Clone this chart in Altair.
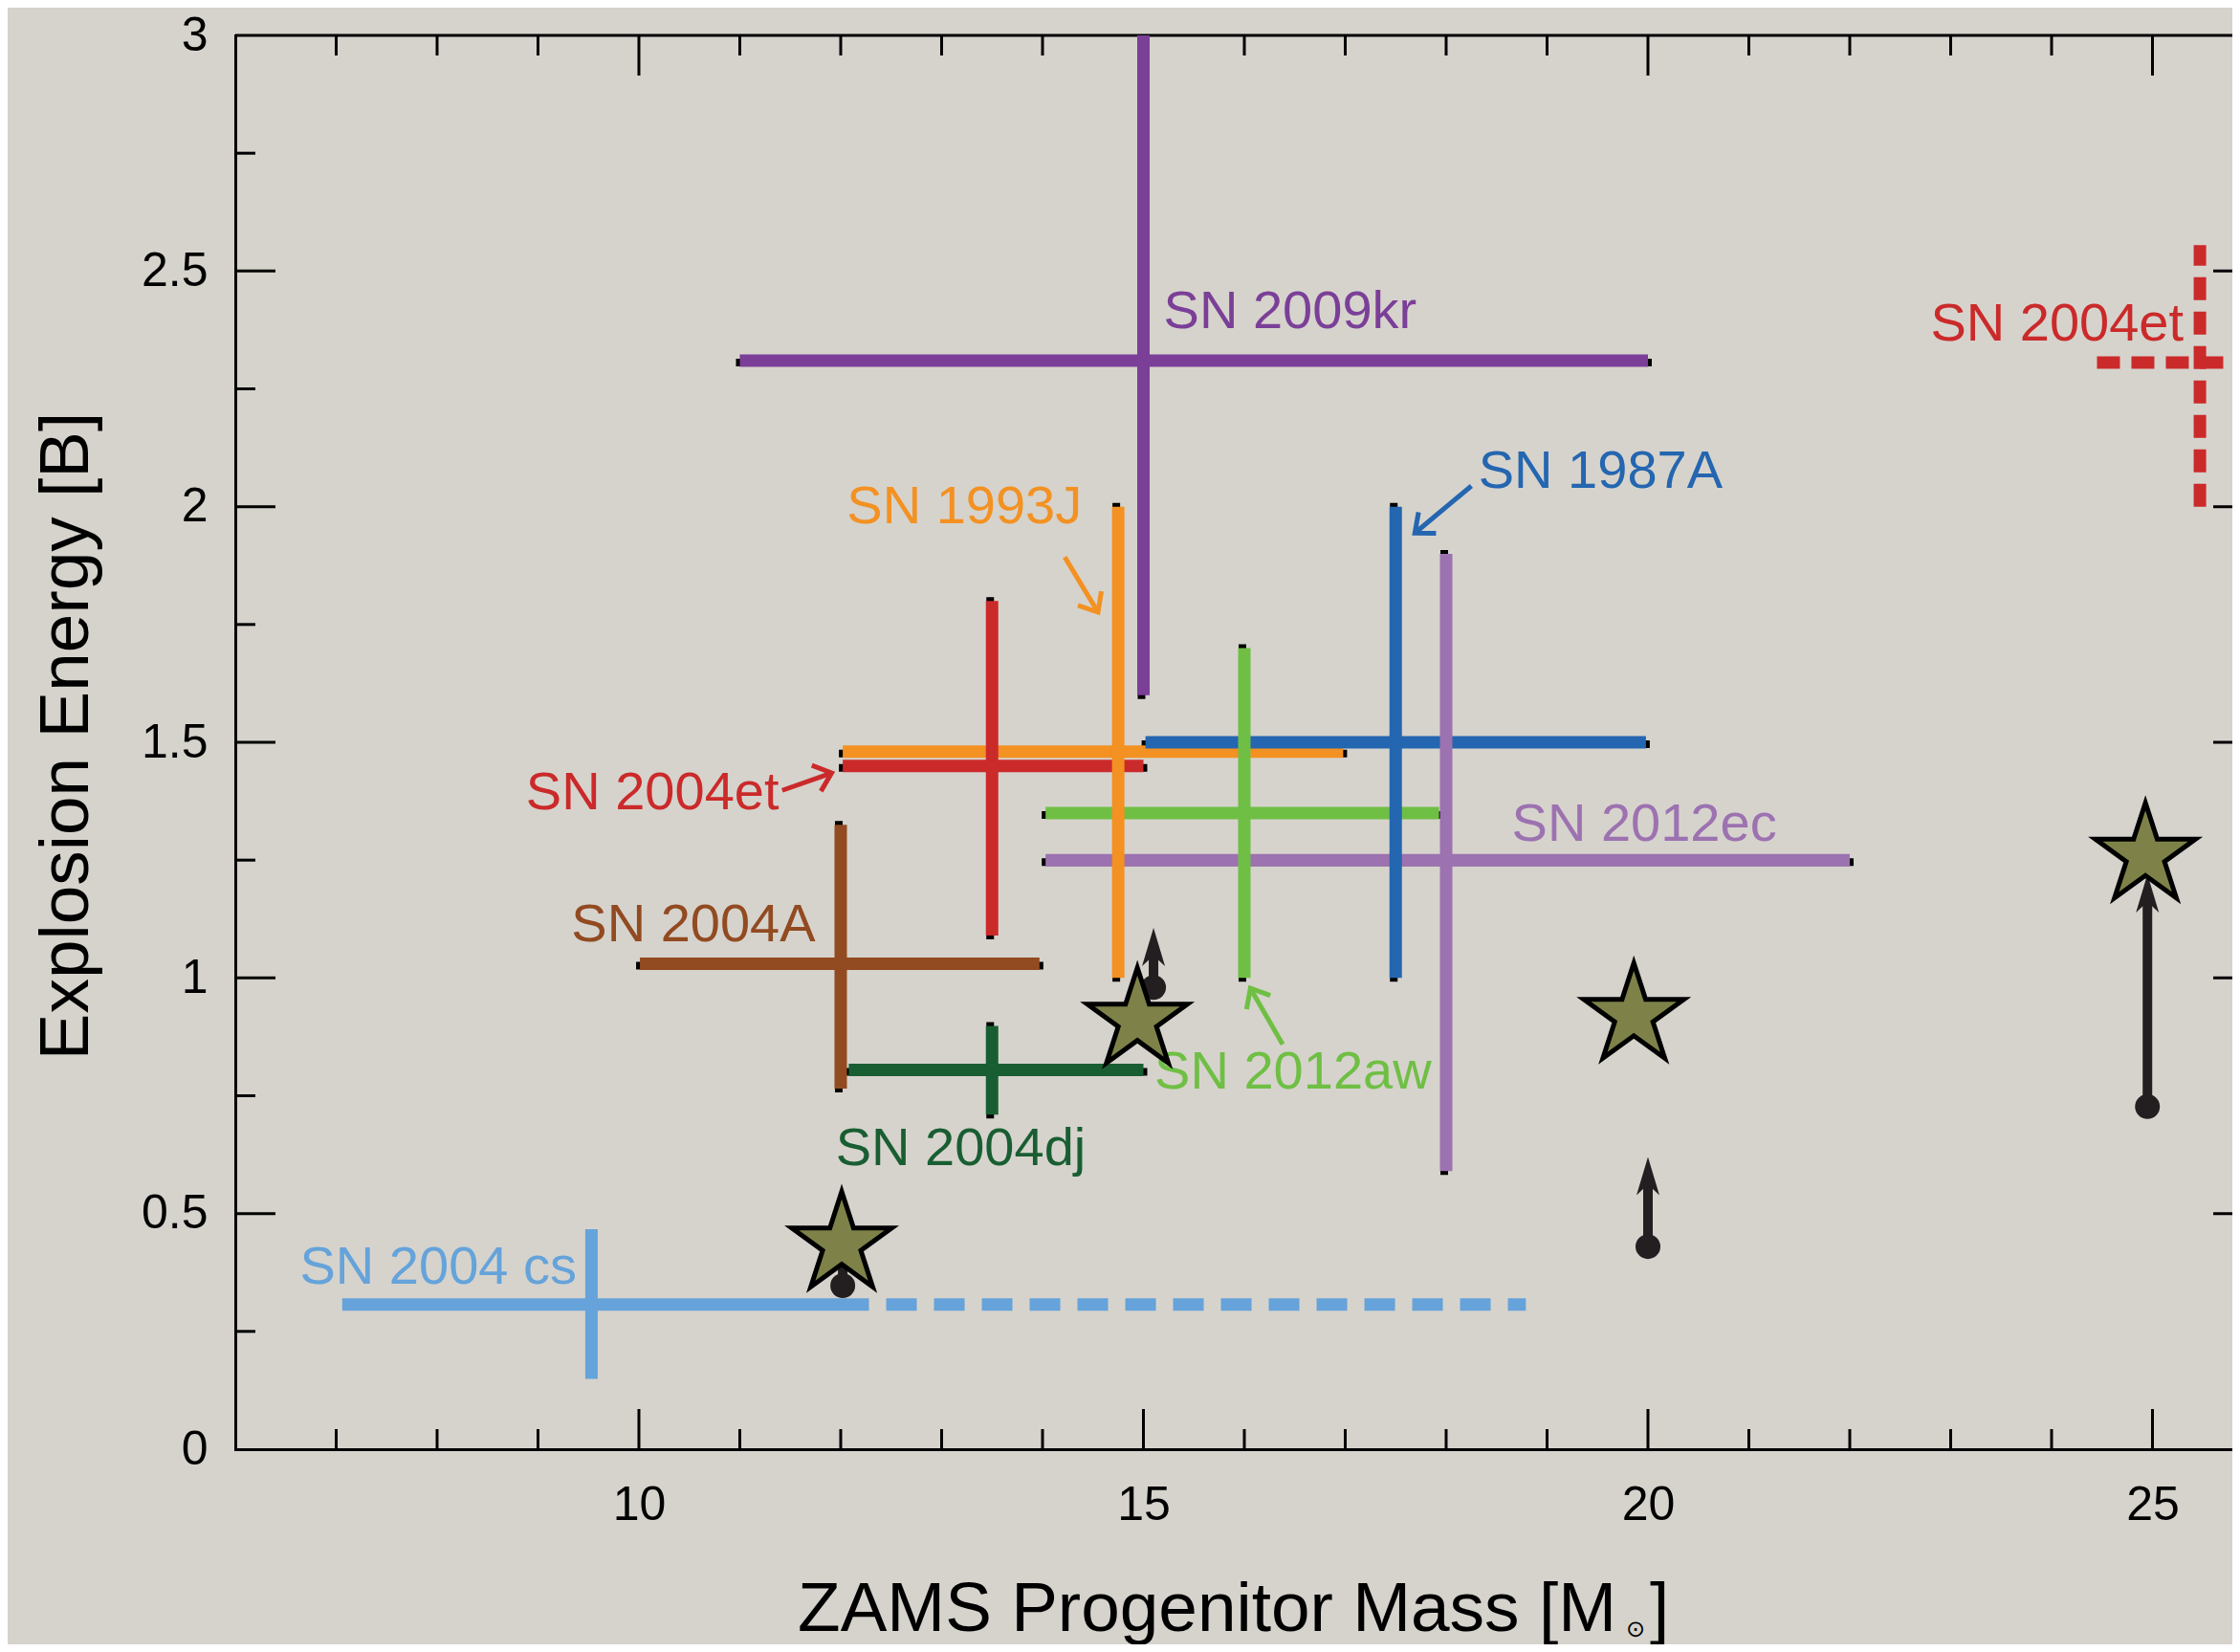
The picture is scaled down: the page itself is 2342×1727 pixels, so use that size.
import math
import altair as alt
import pandas as pd

# ---------------- data ----------------
sn_names = ["SN 2009kr", "SN 1993J", "SN 2004et", "SN 2004A", "SN 2004dj",
            "SN 2012aw", "SN 1987A", "SN 2012ec", "SN 2004 cs"]
sn_mass = [15.0, 14.75, 13.5, 12.0, 13.5, 16.0, 17.5, 18.0, 9.53]
sn_mass_lo = [11.0, 12.02, 12.02, 10.01, 12.08, 14.03, 15.02, 14.03, 7.06]
sn_mass_hi = [20.0, 16.98, 15.0, 13.97, 15.0, 17.93, 19.98, 22.0, 12.28]
sn_energy = [2.31, 1.48, 1.45, 1.03, 0.805, 1.35, 1.5, 1.25, 0.307]
sn_energy_lo = [1.6, 1.0, 1.09, 0.765, 0.71, 1.0, 1.0, 0.59, 0.149]
sn_energy_hi = [3.0, 2.0, 1.8, 1.325, 0.898, 1.7, 2.0, 1.9, 0.467]
sn_colors = ["#7B3F98", "#F39122", "#CB2A2A", "#924A21", "#195E32",
             "#6FBF44", "#2466B0", "#9C72B0", "#65A3DA"]
sn_shadow = [True, True, True, True, True, True, True, True, False]

# dashed extension of SN 2004cs mass range
cs_dash_lo = [12.28]
cs_dash_hi = [18.79]
cs_dash_energy = [0.307]

# alternative (dashed) SN 2004et estimate at the right edge
et_mass = [25.47]
et_mass_lo = [24.45]
et_mass_hi = [26.5]
et_energy = [2.306]
et_energy_lo = [2.0]
et_energy_hi = [2.555]

# labels
label_text = ["SN 2009kr", "SN 1993J", "SN 2004et", "SN 1987A", "SN 2012aw",
              "SN 2012ec", "SN 2004A", "SN 2004dj", "SN 2004 cs", "SN 2004et"]
label_mass = [15.20, 12.06, 8.88, 18.32, 15.11, 18.65, 9.33, 11.95, 6.64, 22.80]
label_energy = [2.414, 1.999, 1.392, 2.074, 0.80, 1.326, 1.113, 0.6375, 0.386, 2.386]
label_colors = ["#7B3F98", "#F39122", "#CB2A2A", "#2466B0", "#6FBF44",
                "#9C72B0", "#924A21", "#195E32", "#65A3DA", "#CB2A2A"]

# annotation arrows (tail -> tip)
ann_mass0 = [11.42, 14.22, 18.25, 16.38]
ann_energy0 = [1.398, 1.893, 2.044, 0.859]
ann_mass1 = [11.91, 14.55, 17.69, 16.06]
ann_energy1 = [1.435, 1.776, 1.944, 0.978]
ann_colors = ["#CB2A2A", "#F39122", "#2466B0", "#6FBF44"]

# model stars
star_mass = [12.01, 14.94, 19.86, 24.93]
star_energy = [0.435, 0.91, 0.92, 1.26]

# lower-limit arrows
lim_mass = [12.02, 15.1, 20.0, 24.95]
lim_lo = [0.347, 0.98, 0.43, 0.727]
lim_hi = [0.46, 1.106, 0.62, 1.22]

# axis ticks
x_major = [10, 15, 20, 25]
x_minor = [7, 8, 9, 11, 12, 13, 14, 16, 17, 18, 19, 21, 22, 23, 24]
y_major = [0.5, 1.0, 1.5, 2.0, 2.5]
y_minor = [0.25, 0.75, 1.25, 1.75, 2.25, 2.75]
y_labels = [0, 0.5, 1, 1.5, 2, 2.5, 3]

# titles
x_title_main = "ZAMS Progenitor Mass [M"
x_title_sub = "\u2299"
x_title_end = "]"
y_title = "Explosion Energy [B]"

# ---------------- layout ----------------
W = 2088
H = 1478
PXX = 105.5
XMIN = 6.0
XMAX = XMIN + W / PXX
PXY = H / 3.0
RIGHT_SPINE = (26 - XMIN) * PXX
FONT = "Liberation Sans"
BG = "#D6D3CD"
LW = 13

x_scale = alt.Scale(domain=[XMIN, XMAX], nice=False, zero=False)
y_scale = alt.Scale(domain=[0, 3], nice=False, zero=False)

x_axis = alt.Axis(values=x_major, format="d", ticks=False, tickSize=0, grid=False,
                  domain=True, domainColor="black", domainWidth=3, domainCap="square",
                  labelFont=FONT, labelFontSize=50, labelColor="black", labelPadding=33,
                  labelOverlap=False, labelFlush=False, title=None)
y_axis = alt.Axis(values=y_labels, format="~g", ticks=False, tickSize=0, grid=False,
                  domain=True, domainColor="black", domainWidth=3, domainCap="square",
                  labelFont=FONT, labelFontSize=50, labelColor="black", labelPadding=29,
                  labelOverlap=False,
                  title=y_title, titleFont=FONT,
                  titleFontSize=73, titleFontWeight="normal", titleColor="black",
                  titleAngle=270, titleX=-155, titleY=732, titleBaseline="alphabetic",
                  titleAlign="center")


def X(f):
    return alt.X(f, type="quantitative", scale=x_scale, axis=x_axis)


def Y(f):
    return alt.Y(f, type="quantitative", scale=y_scale, axis=y_axis)


sn = pd.DataFrame({"name": sn_names, "m": sn_mass, "mlo": sn_mass_lo, "mhi": sn_mass_hi,
                   "e": sn_energy, "elo": sn_energy_lo, "ehi": sn_energy_hi,
                   "color": sn_colors, "shadow": sn_shadow})
sn_sh = sn[sn["shadow"]]

one = pd.DataFrame({"a": [0]})
layers = []

# top spine
layers.append(alt.Chart(one).mark_rule(color="black", strokeWidth=3).encode(
    x=alt.value(0), x2=alt.value(W), y=alt.value(0)))

# ticks (inward)
def tick_layer(vals, horiz, pos, length):
    df = pd.DataFrame({"v": vals})
    ch = alt.Chart(df).mark_rule(color="black", strokeWidth=3)
    if horiz:
        if pos == "bottom":
            return ch.encode(x=X("v"), y=alt.value(H), y2=alt.value(H - length))
        return ch.encode(x=X("v"), y=alt.value(0), y2=alt.value(length))
    if pos == "left":
        return ch.encode(y=Y("v"), x=alt.value(0), x2=alt.value(length))
    return ch.encode(y=Y("v"), x=alt.value(RIGHT_SPINE), x2=alt.value(RIGHT_SPINE - length))

for p in ["bottom", "top"]:
    layers.append(tick_layer(x_major, True, p, 42))
    layers.append(tick_layer(x_minor, True, p, 21))
for p in ["left", "right"]:
    layers.append(tick_layer(y_major, False, p, 42))
    layers.append(tick_layer(y_minor, False, p, 21))

# black shadows under the error crosses
layers.append(alt.Chart(sn_sh).mark_rule(color="black", strokeWidth=8, strokeCap="square",
                                         clip=True, xOffset=-2).encode(
    x=X("m"), y=Y("elo"), y2=alt.Y2("ehi")))
layers.append(alt.Chart(sn_sh).mark_rule(color="black", strokeWidth=8, strokeCap="square",
                                         clip=True, yOffset=2).encode(
    y=Y("e"), x=X("mlo"), x2=alt.X2("mhi")))

# colored crosses: horizontals then verticals
layers.append(alt.Chart(sn).mark_rule(strokeWidth=LW, strokeCap="butt", clip=True).encode(
    y=Y("e"), x=X("mlo"), x2=alt.X2("mhi"), color=alt.Color("color:N", scale=None)))
layers.append(alt.Chart(sn).mark_rule(strokeWidth=LW, strokeCap="butt", clip=True).encode(
    x=X("m"), y=Y("elo"), y2=alt.Y2("ehi"), color=alt.Color("color:N", scale=None)))

# dashed SN 2004cs extension
cs = pd.DataFrame({"lo": cs_dash_lo, "hi": cs_dash_hi, "e": cs_dash_energy})
layers.append(alt.Chart(cs).mark_rule(strokeWidth=LW, color="#65A3DA", strokeDash=[32, 18],
                                      strokeDashOffset=32, strokeCap="butt", clip=True).encode(
    y=Y("e"), x=X("lo"), x2=alt.X2("hi")))

# dashed SN 2004et alternative
et = pd.DataFrame({"m": et_mass, "mlo": et_mass_lo, "mhi": et_mass_hi,
                   "e": et_energy, "elo": et_energy_lo, "ehi": et_energy_hi})
layers.append(alt.Chart(et).mark_rule(strokeWidth=LW, color="#CB2A2A", strokeDash=[24, 12],
                                      strokeCap="butt", clip=True).encode(
    y=Y("e"), x=X("mlo"), x2=alt.X2("mhi")))
layers.append(alt.Chart(et).mark_rule(strokeWidth=LW, color="#CB2A2A", strokeDash=[24, 12],
                                      strokeCap="butt", clip=True).encode(
    x=X("m"), y=Y("elo"), y2=alt.Y2("ehi")))

# labels
lab = pd.DataFrame({"t": label_text, "m": label_mass, "e": label_energy, "color": label_colors})
layers.append(alt.Chart(lab).mark_text(align="left", baseline="middle", font=FONT,
                                       fontSize=56).encode(
    x=X("m"), y=Y("e"), text="t:N", color=alt.Color("color:N", scale=None)))

# annotation arrows
ann = pd.DataFrame({"m0": ann_mass0, "e0": ann_energy0, "m1": ann_mass1,
                    "e1": ann_energy1, "color": ann_colors})
ann["angle"] = [
    (math.degrees(math.atan2((r.m1 - r.m0) * PXX, (r.e1 - r.e0) * PXY)) + 360) % 360
    for r in ann.itertuples()
]
layers.append(alt.Chart(ann).mark_rule(strokeWidth=5).encode(
    x=X("m0"), x2=alt.X2("m1"), y=Y("e0"), y2=alt.Y2("e1"),
    color=alt.Color("color:N", scale=None)))
CHEV = "M-0.55,0.65L0,0L0.55,0.65"
layers.append(alt.Chart(ann).mark_point(shape=CHEV, size=2704, filled=False, strokeWidth=5,
                                        opacity=1).encode(
    x=X("m1"), y=Y("e1"), color=alt.Color("color:N", scale=None),
    angle=alt.Angle("angle:Q", scale=None)))

# lower-limit arrows
lim = pd.DataFrame({"m": lim_mass, "lo": lim_lo, "hi": lim_hi})
ARROW_INK = "#231F20"
HEAD = "M0,0L0.3,1L0,0.72L-0.3,1Z"
layers.append(alt.Chart(lim).mark_rule(strokeWidth=10, color=ARROW_INK, y2Offset=26).encode(
    x=X("m"), y=Y("lo"), y2=alt.Y2("hi")))
layers.append(alt.Chart(lim).mark_point(shape=HEAD, size=6400, filled=True, color=ARROW_INK,
                                        opacity=1).encode(x=X("m"), y=Y("hi")))
layers.append(alt.Chart(lim).mark_point(shape="circle", size=676, filled=True, color=ARROW_INK,
                                        opacity=1).encode(x=X("m"), y=Y("lo")))

# stars
pts = []
for k in range(10):
    a = math.radians(-90 + 36 * k)
    r = 1.0 if k % 2 == 0 else 0.382
    pts.append(f"{r * math.cos(a):.4f},{r * math.sin(a):.4f}")
STAR = "M" + "L".join(pts) + "Z"
stars = pd.DataFrame({"m": star_mass, "e": star_energy})
layers.append(alt.Chart(stars).mark_point(shape=STAR, size=12100, filled=True, fill="#7E8248",
                                          stroke="black", strokeWidth=5, opacity=1,
                                          fillOpacity=1, strokeOpacity=1).encode(
    x=X("m"), y=Y("e")))

# x-axis title in three pieces (subscript sun symbol)
layers.append(alt.Chart(one).mark_text(text=x_title_main, font=FONT, fontSize=73,
                                       align="right", baseline="alphabetic",
                                       color="black").encode(
    x=alt.value(1444), y=alt.value(1668)))
layers.append(alt.Chart(one).mark_text(text=x_title_sub, font="DejaVu Sans", fontSize=24,
                                       align="center", baseline="middle",
                                       color="black").encode(
    x=alt.value(1464), y=alt.value(1667)))
layers.append(alt.Chart(one).mark_text(text=x_title_end, font=FONT, fontSize=73,
                                       align="left", baseline="alphabetic",
                                       color="black").encode(
    x=alt.value(1479), y=alt.value(1668)))

chart = alt.layer(*layers).properties(
    width=W, height=H,
    autosize=alt.AutoSizeParams(type="none"),
    padding={"left": 238, "top": 29, "right": 0, "bottom": 204},
    background=BG,
).configure_view(stroke=None)

chart.save("out.html", embed_options={"renderer": "svg", "actions": False})
